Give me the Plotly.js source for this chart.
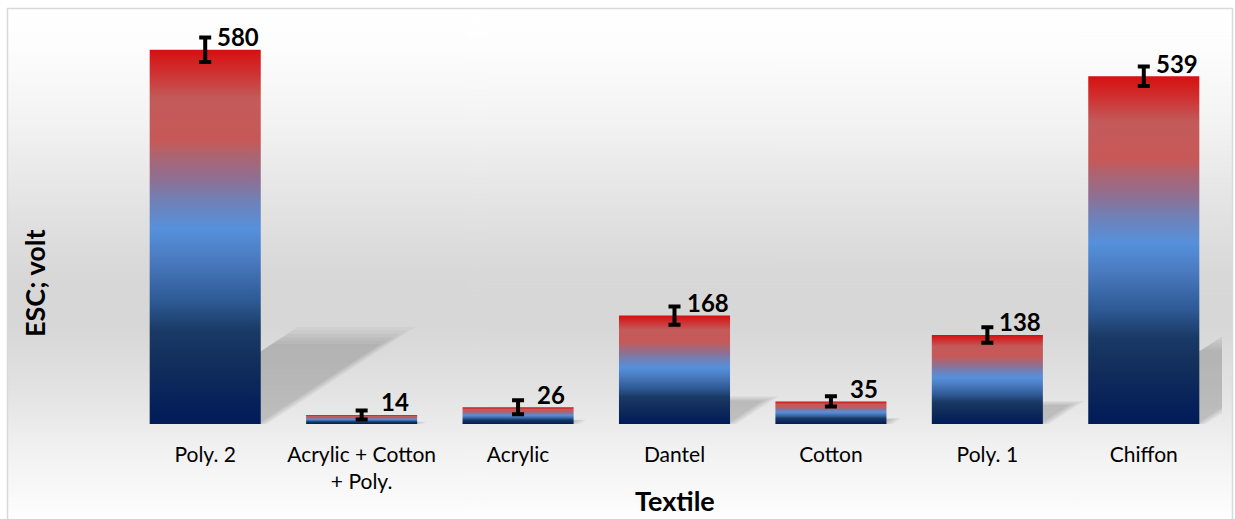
<!DOCTYPE html>
<html>
<head>
<meta charset="utf-8">
<script src="https://cdn.plot.ly/plotly-3.0.1.min.js"></script>
<style>html,body{margin:0;padding:0;background:#fff;}#chart{width:1235px;height:519px;}</style>
</head>
<body>
<div id="chart"></div>
<script>
// ---- data ----
const categories = ["Poly. 2", "Acrylic + Cotton<br>+ Poly.", "Acrylic", "Dantel", "Cotton", "Poly. 1", "Chiffon"];
const esc = [580, 14, 26, 168, 35, 138, 539];
const escError = [19, 7, 11, 14, 8, 12, 15];
const labels = ["580", "14", "26", "168", "35", "138", "539"];

// ---- geometry helpers (pixel -> paper) ----
const W = 1235, H = 519, ML = 127, MR = 13, MT = 24, MB = 95;
const PW = W - ML - MR, PH = H - MT - MB;
const px = p => (p - ML) / PW;
const py = p => (H - MB - p) / PH;

const FONT = "Lato, 'Open Sans', sans-serif";
const barHalf = 0.355;
const barScale = [
  [0.00, '#001b58'], [0.17, '#132f5c'], [0.25, '#1a3a66'], [0.33, '#2e5a95'],
  [0.44, '#4a7bc0'], [0.52, '#5590db'], [0.60, '#7180b5'], [0.65, '#8d7095'],
  [0.71, '#a86675'], [0.76, '#c85858'], [0.87, '#c35a5a'], [0.94, '#cf3030'], [1.00, '#d61010']
];

// background gradient image
const cv = document.createElement('canvas');
cv.width = 4; cv.height = 512;
const ctx = cv.getContext('2d');
const g = ctx.createLinearGradient(0, 0, 0, 512);
g.addColorStop(0.00, '#ffffff');
g.addColorStop(0.08, '#fdfdfd');
g.addColorStop(0.22, '#f3f3f3');
g.addColorStop(0.40, '#e2e2e2');
g.addColorStop(0.52, '#d8d8d8');
g.addColorStop(0.62, '#d7d7d7');
g.addColorStop(0.75, '#e3e3e3');
g.addColorStop(0.86, '#f1f1f1');
g.addColorStop(1.00, '#fefefe');
ctx.fillStyle = g; ctx.fillRect(0, 0, 4, 512);
const bgSrc = cv.toDataURL('image/png');

const traces = [];
// soft shadows (layered for a blurred edge)
const kx = 0.00143, ky = 0.227;
const layers = [1.14, 1.10, 1.06, 1.02, 0.98, 0.94];
esc.forEach((v, i) => {
  layers.forEach((s) => {
    const dx = kx * v * s, hs = ky * v * s;
    const grow = (s - 1) * 0.3;
    traces.push({
      type: 'scatter', mode: 'none', fill: 'toself',
      fillcolor: 'rgba(0,0,0,0.032)',
      x: [i - barHalf, i + barHalf + grow, i + barHalf + dx + grow, i - barHalf + dx, i - barHalf],
      y: [0, 0, hs, hs, 0],
      hoverinfo: 'skip', showlegend: false
    });
  });
});
// gradient bars
esc.forEach((v, i) => {
  traces.push({
    type: 'scatter', mode: 'none', fill: 'toself',
    x: [i - barHalf, i + barHalf, i + barHalf, i - barHalf, i - barHalf],
    y: [0, 0, v, v, 0],
    fillgradient: { type: 'vertical', colorscale: barScale },
    fillcolor: '#4a7bc0',
    name: categories[i].replace('<br>', ' '),
    hoverinfo: 'name', showlegend: false
  });
});
// error bars
traces.push({
  type: 'scatter', mode: 'markers',
  x: esc.map((_, i) => i), y: esc,
  marker: { size: 1, color: 'rgba(0,0,0,0)' },
  error_y: { type: 'data', array: escError, visible: true, color: '#000000', thickness: 4, width: 6 },
  hoverinfo: 'y', showlegend: false
});

const annotations = esc.map((v, i) => ({
  x: i, y: v, xref: 'x', yref: 'y', text: '<b>' + labels[i] + '</b>',
  showarrow: false, xanchor: 'center', yanchor: 'middle',
  xshift: 33, yshift: 13,
  font: { family: FONT, size: 24, color: '#000' }
}));
annotations.push({
  xref: 'paper', yref: 'paper', x: px(34), y: py(283), text: '<b>ESC; volt</b>',
  textangle: -90, showarrow: false, xanchor: 'center', yanchor: 'middle',
  font: { family: FONT, size: 27, color: '#000' }
});
annotations.push({
  xref: 'paper', yref: 'paper', x: px(674.5), y: py(500), text: '<b>Textile</b>',
  showarrow: false, xanchor: 'center', yanchor: 'middle',
  font: { family: FONT, size: 27, color: '#000' }
});

const layout = {
  width: W, height: H,
  margin: { l: ML, r: MR, t: MT, b: MB, pad: 0 },
  paper_bgcolor: '#ffffff', plot_bgcolor: 'rgba(0,0,0,0)',
  showlegend: false,
  xaxis: {
    type: 'linear', range: [-0.5, 6.5], tickvals: esc.map((_, i) => i), ticktext: categories,
    showgrid: false, zeroline: false, showline: false, ticks: '', ticklabelstandoff: 16,
    tickfont: { family: FONT, size: 21, color: '#000' }, fixedrange: true
  },
  yaxis: {
    range: [0, 620], showgrid: false, zeroline: false, showline: false,
    showticklabels: false, ticks: '', fixedrange: true
  },
  images: [{
    source: bgSrc, xref: 'paper', yref: 'paper', x: px(8), y: py(9),
    sizex: (1232 - 8) / PW, sizey: (519 - 9) / PH, xanchor: 'left', yanchor: 'top',
    sizing: 'stretch', layer: 'below'
  }],
  shapes: [{
    type: 'rect', xref: 'paper', yref: 'paper', x0: px(7.5), x1: px(1232.5), y0: py(540), y1: py(8.5),
    line: { color: '#d9d9d9', width: 1.5 }, fillcolor: 'rgba(0,0,0,0)', layer: 'above'
  }],
  annotations: annotations
};

Plotly.newPlot('chart', traces, layout, { displayModeBar: false, staticPlot: true });
</script>
</body>
</html>
